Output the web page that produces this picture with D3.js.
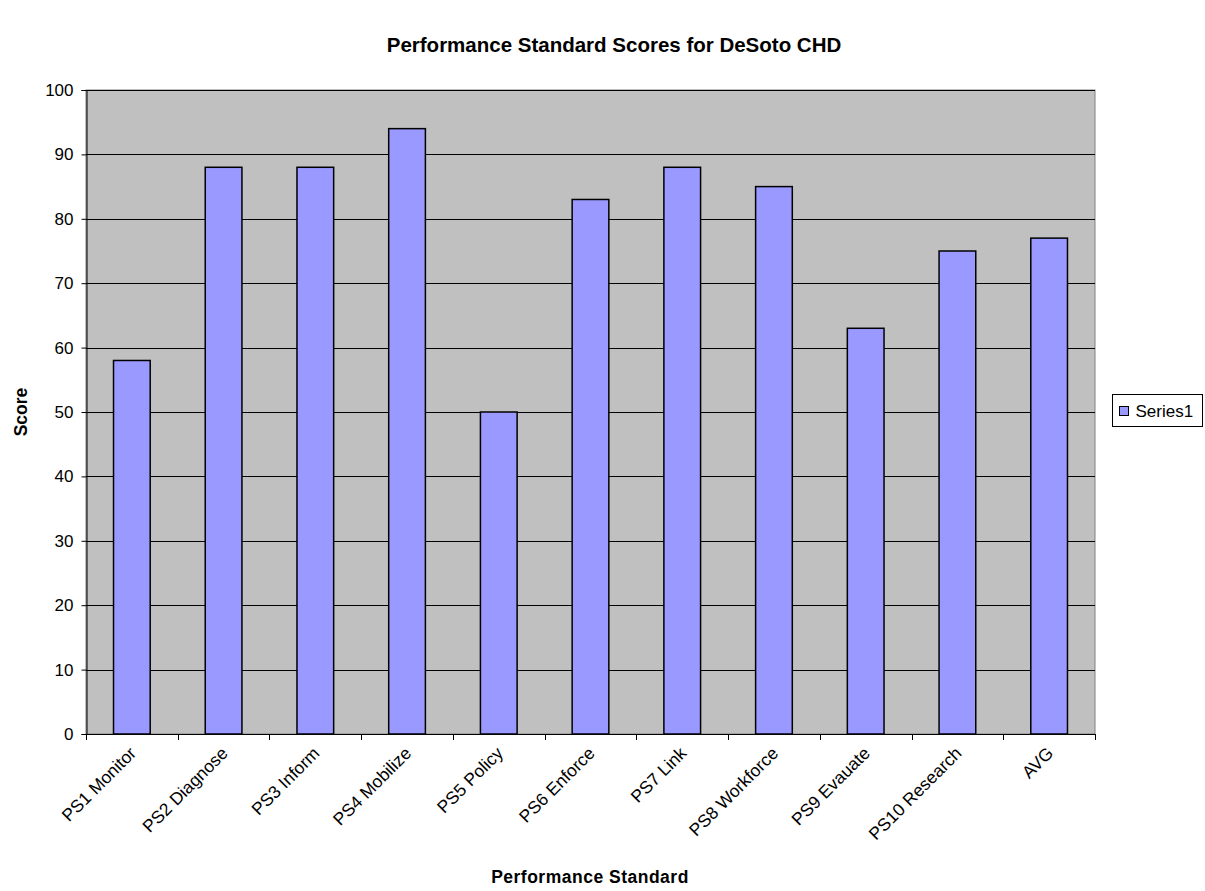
<!DOCTYPE html>
<html>
<head>
<meta charset="utf-8">
<script src="https://cdn.jsdelivr.net/npm/d3@7"></script>
<style>
  body { margin: 0; background: #fff; }
  text { font-family: "Liberation Sans", Arial, sans-serif; }
</style>
</head>
<body>
<div class="container"></div>
<script>
let categories = ["PS1 Monitor", "PS2 Diagnose", "PS3 Inform", "PS4 Mobilize", "PS5 Policy",
  "PS6 Enforce", "PS7 Link", "PS8 Workforce", "PS9 Evauate", "PS10 Research", "AVG"]
let scores = [58, 88, 88, 94, 50, 83, 88, 85, 63, 75, 77]
let yTicks = [0, 10, 20, 30, 40, 50, 60, 70, 80, 90, 100]
let seriesName = "Series1"

let width = 1205
let height = 891
let plot = { left: 86, top: 90, right: 1095, bottom: 734 }

let data = categories.map(function (c, i) { return { cat: c, score: scores[i] } })

let svg = d3.select(".container")
  .append("svg")
  .attr("width", width)
  .attr("height", height)

let x = d3.scaleBand()
  .domain(categories)
  .range([plot.left, plot.right])
  .paddingInner(0.6)
  .paddingOuter(0.3)

let band = d3.scaleBand()
  .domain(categories)
  .range([plot.left, plot.right])

let y = d3.scaleLinear()
  .domain([0, 100])
  .range([plot.bottom, plot.top])

// plot background
svg.append("rect")
  .attr("x", plot.left)
  .attr("y", plot.top)
  .attr("width", plot.right - plot.left)
  .attr("height", plot.bottom - plot.top)
  .attr("fill", "#c0c0c0")
  .attr("stroke", "#808080")

// gridlines
svg.selectAll(".grid")
  .data(yTicks.slice(1))
  .enter()
  .append("line")
  .attr("class", "grid")
  .attr("x1", plot.left)
  .attr("x2", plot.right)
  .attr("y1", function (d) { return Math.round(y(d)) + 0.5 })
  .attr("y2", function (d) { return Math.round(y(d)) + 0.5 })
  .attr("stroke", "#000")
  .attr("stroke-width", 1)

// bars
svg.selectAll(".bar")
  .data(data)
  .enter()
  .append("rect")
  .attr("class", "bar")
  .attr("x", function (d) { return x(d.cat) })
  .attr("y", function (d) { return y(d.score) })
  .attr("width", x.bandwidth())
  .attr("height", function (d) { return plot.bottom - y(d.score) })
  .attr("fill", "#9999ff")
  .attr("stroke", "#000")
  .attr("stroke-width", 1.5)

// y axis
let yAxis = d3.axisLeft(y)
  .tickValues(yTicks)
  .tickSize(5)
  .tickPadding(8)

let yG = svg.append("g")
  .attr("transform", "translate(" + (plot.left + 0.5) + ",0)")
  .call(yAxis)
yG.select(".domain").attr("stroke", "#000")
yG.selectAll("line").attr("stroke", "#000")
yG.selectAll("text")
  .attr("font-size", "17px")
  .attr("fill", "#000")
  .attr("font-family", "Liberation Sans, Arial, sans-serif")

// x axis line and ticks at category boundaries
svg.append("line")
  .attr("x1", plot.left)
  .attr("x2", plot.right)
  .attr("y1", plot.bottom + 0.5)
  .attr("y2", plot.bottom + 0.5)
  .attr("stroke", "#000")

let boundaries = categories.map(function (c) { return band(c) }).concat([plot.right])
svg.selectAll(".xtick")
  .data(boundaries)
  .enter()
  .append("line")
  .attr("class", "xtick")
  .attr("x1", function (d) { return Math.round(d) + 0.5 })
  .attr("x2", function (d) { return Math.round(d) + 0.5 })
  .attr("y1", plot.bottom)
  .attr("y2", plot.bottom + 6)
  .attr("stroke", "#000")

svg.selectAll(".xlabel")
  .data(categories)
  .enter()
  .append("text")
  .attr("class", "xlabel")
  .attr("transform", function (d) {
    let cx = band(d) + band.bandwidth() / 2
    return "translate(" + (cx + 1) + "," + (plot.bottom + 16) + ") rotate(-45)"
  })
  .attr("text-anchor", "end")
  .attr("dy", "0.35em")
  .attr("font-size", "17.5px")
  .text(function (d) { return d })

// titles
svg.append("text")
  .attr("x", 614)
  .attr("y", 52)
  .attr("text-anchor", "middle")
  .attr("font-size", "20.5px")
  .attr("font-weight", "bold")
  .text("Performance Standard Scores for DeSoto CHD")

svg.append("text")
  .attr("x", 590)
  .attr("y", 883)
  .attr("text-anchor", "middle")
  .attr("font-size", "17.5px")
  .attr("font-weight", "bold")
  .attr("letter-spacing", "0.5")
  .text("Performance Standard")

svg.append("text")
  .attr("transform", "translate(27," + ((plot.top + plot.bottom) / 2) + ") rotate(-90)")
  .attr("text-anchor", "middle")
  .attr("font-size", "17.5px")
  .attr("font-weight", "bold")
  .text("Score")

// legend
let legend = svg.append("g")
  .attr("transform", "translate(1112.5,394.5)")
legend.append("rect")
  .attr("width", 90)
  .attr("height", 32)
  .attr("fill", "#fff")
  .attr("stroke", "#000")
legend.append("rect")
  .attr("x", 7)
  .attr("y", 12)
  .attr("width", 9)
  .attr("height", 9)
  .attr("fill", "#9999ff")
  .attr("stroke", "#000")
legend.append("text")
  .attr("x", 23)
  .attr("y", 17)
  .attr("dy", "0.35em")
  .attr("font-size", "17px")
  .text(seriesName)
</script>
</body>
</html>
